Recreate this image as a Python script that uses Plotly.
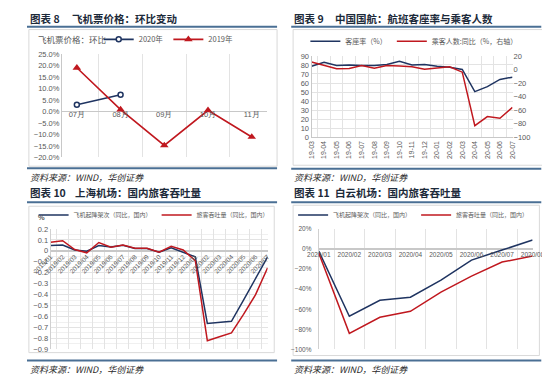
import plotly.graph_objects as go

W, H = 550, 375
def fx(p): return p / W
def fy(p): return 1 - p / H

# ---------------- data ----------------
# Panel 1: ticket price m/m
months1 = ["07月", "08月", "09月", "10月", "11月"]
price_2020 = [2.9, 7.3, None, None, None]
price_2019 = [19.0, 0.8, -14.8, 0.5, -11.1]

# Panel 2: Air China load factor and passengers yoy
months2 = ["19-03", "19-04", "19-05", "19-06", "19-07", "19-08", "19-09", "19-10", "19-11",
           "19-12", "20-01", "20-02", "20-03", "20-04", "20-05", "20-06", "20-07"]
load_factor = [78.5, 83.0, 79.5, 80.0, 79.5, 79.5, 80.5, 84.0, 80.0, 80.5, 78.5, 77.5, 75.0,
               50.5, 56.0, 64.0, 66.5]
pax_yoy = [11, 6, 1, 1.5, 6, 2, 6, 5, 4, 0.5, 2, 4, -4, -83, -69.5, -72, -56]

# Panel 3: Shanghai airport domestic (yoy)
months3 = ["2019/01", "2019/02", "2019/03", "2019/04", "2019/05", "2019/06", "2019/07",
           "2019/08", "2019/09", "2019/10", "2019/11", "2019/12", "2020/01", "2020/02",
           "2020/03", "2020/04", "2020/05", "2020/06", "2020/07"]
mov_sh = [0.048, 0.054, 0.008, -0.003, 0.048, 0.035, 0.051, 0.022, 0.022, -0.012, 0.027,
          -0.012, -0.055, -0.663, -0.653, -0.643, -0.45, -0.25, -0.055]
pax_sh = [0.078, 0.093, 0.012, -0.018, 0.076, 0.033, 0.053, 0.024, 0.024, -0.012, 0.042,
          0.008, -0.09, -0.82, -0.785, -0.75, -0.58, -0.40, -0.155]

# Panel 4: Baiyun airport domestic (yoy, %)
months4 = ["2020/01", "2020/02", "2020/03", "2020/04", "2020/05", "2020/06", "2020/07", "2020/08"]
mov_by = [-2, -67, -51, -48, -31, -11, -1, 9]
pax_by = [-4, -84, -68, -62, -43, -27, -13, -7]

NAVY = "#1f3461"
RED = "#c0181f"
GRID = "#e3e3e3"
TICK = "#595959"
RULE = "#4a6f94"
BOX = "#d9d9d9"
TXT = "#1c2a3a"
TFONT = "Liberation Sans, Arial, sans-serif"
CJK = "Noto Sans CJK SC"

fig = go.Figure()

# ---- panel 1
fig.add_trace(go.Scatter(x=months1, y=price_2020, name="2020年", mode="lines+markers",
                         line=dict(color=NAVY, width=1.6),
                         marker=dict(symbol="circle", size=5, color="white",
                                     line=dict(color=NAVY, width=1.5)),
                         xaxis="x", yaxis="y", legend="legend"))
fig.add_trace(go.Scatter(x=months1, y=price_2019, name="2019年", mode="lines+markers",
                         line=dict(color=RED, width=1.6),
                         marker=dict(symbol="triangle-up", size=7.5, color=RED),
                         xaxis="x", yaxis="y", legend="legend"))

# ---- panel 2
fig.add_trace(go.Scatter(x=months2, y=load_factor, name="客座率（%）", mode="lines",
                         line=dict(color=NAVY, width=1.5), xaxis="x2", yaxis="y2",
                         legend="legend2"))
fig.add_trace(go.Scatter(x=months2, y=pax_yoy, name="乘客人数:同比（%，右轴）", mode="lines",
                         line=dict(color=RED, width=1.5), xaxis="x2", yaxis="y3",
                         legend="legend2"))

# ---- panel 3
fig.add_trace(go.Scatter(x=months3, y=mov_sh, name="飞机起降架次（同比，国内）", mode="lines",
                         line=dict(color=NAVY, width=1.5), xaxis="x3", yaxis="y4",
                         legend="legend3"))
fig.add_trace(go.Scatter(x=months3, y=pax_sh, name="旅客吞吐量（同比，国内）", mode="lines",
                         line=dict(color=RED, width=1.5), xaxis="x3", yaxis="y4",
                         legend="legend3"))

# ---- panel 4
fig.add_trace(go.Scatter(x=months4, y=mov_by, name="飞机起降架次（同比，国内）", mode="lines",
                         line=dict(color=NAVY, width=1.5), xaxis="x4", yaxis="y5",
                         legend="legend4"))
fig.add_trace(go.Scatter(x=months4, y=pax_by, name="旅客吞吐量（同比，国内）", mode="lines",
                         line=dict(color=RED, width=1.5), xaxis="x4", yaxis="y5",
                         legend="legend4"))

tickf = dict(family=TFONT, size=7.5, color=TICK)

def cat_x(dom, pos=None, anchor=None, angle=0, size=7.5, grid=True, standoff=0):
    d = dict(type="category", domain=[fx(dom[0]), fx(dom[1])], tickson="boundaries",
             showgrid=grid, gridcolor=GRID, gridwidth=1, ticks="", showline=False,
             zeroline=False, tickangle=angle, tickfont=dict(family=TFONT, size=size, color=TICK),
             ticklabelstandoff=standoff, fixedrange=True)
    if pos is not None:
        d.update(anchor="free", position=fy(pos))
    else:
        d.update(anchor=anchor)
    return d

# panel 1 axes
fig.update_layout(
    xaxis=cat_x((37, 254), pos=102, standoff=-3),
    yaxis=dict(domain=[fy(149), fy(43)], range=[-20, 25], dtick=5, tickformat=".1f",
               ticksuffix="%", showgrid=False, zeroline=True, zerolinecolor="#c8c8c8",
               zerolinewidth=1, showline=True, linecolor="#c8c8c8", linewidth=1,
               tickfont=tickf, anchor="x"),
)
# panel 2 axes
fig.update_layout(
    xaxis2=dict(type="category", domain=[fx(301.5), fx(514.5)], anchor="y2", tickson="boundaries",
                showgrid=True, gridcolor=GRID, ticks="", tickangle=-90, showline=True,
                linecolor="#c8c8c8", tickfont=dict(family=TFONT, size=7, color=TICK)),
    yaxis2=dict(domain=[fy(128.3), fy(45)], range=[0, 90], dtick=10, showgrid=True,
                gridcolor=GRID, zeroline=False, showline=True, linecolor="#c8c8c8",
                tickfont=dict(family=TFONT, size=7.5, color=TICK), anchor="x2"),
    yaxis3=dict(overlaying="y2", side="right", anchor="x2", range=[-100, 20], dtick=20,
                showgrid=False, zeroline=False, showline=False,
                tickfont=dict(family=TFONT, size=7.5, color=TICK)),
)
# panel 3 axes
fig.update_layout(
    xaxis3=cat_x((25, 255), pos=244.7, angle=-45, size=6.5),
    yaxis4=dict(domain=[fy(345.7), fy(222.3)], range=[-0.9, 0.2], dtick=0.1, tickformat="~g",
                showgrid=True, gridcolor=GRID, zeroline=True, zerolinecolor="#c8c8c8",
                showline=True, linecolor="#d0d0d0",
                minor=dict(dtick=0.05, showgrid=True, gridcolor="#f0f0f0"),
                tickfont=dict(family=TFONT, size=7.5, color=TICK), anchor="x3"),
)
# panel 4 axes
fig.update_layout(
    xaxis4=cat_x((309.2, 535.8), pos=242.8, size=6.5, standoff=1),
    yaxis5=dict(domain=[fy(345.7), fy(222.3)], range=[-100, 20], dtick=20, ticksuffix="%",
                showgrid=False, zeroline=True, zerolinecolor="#c8c8c8", showline=True,
                linecolor="#d0d0d0", tickfont=dict(family=TFONT, size=6.5, color=TICK),
                ticklabelstandoff=5, anchor="x4"),
)

def leg(x, y, size):
    return dict(orientation="h", x=fx(x), y=fy(y), xanchor="left", yanchor="middle",
                font=dict(family=CJK, size=size, color=TICK), bgcolor="rgba(0,0,0,0)",
                itemwidth=30)

fig.update_layout(
    legend=leg(76, 28, 7.5),
    legend2=leg(295, 30, 7),
    legend3=leg(7, 208, 6),
    legend4=leg(282, 208, 6),
)

shapes = []
def rule(x0, x1, y, w=2):
    shapes.append(dict(type="line", xref="paper", yref="paper", x0=fx(x0), x1=fx(x1),
                       y0=fy(y), y1=fy(y), line=dict(color=RULE, width=w)))
def box(x0, y0, x1, y1):
    shapes.append(dict(type="rect", xref="paper", yref="paper", x0=fx(x0), x1=fx(x1),
                       y0=fy(y1), y1=fy(y0), line=dict(color=BOX, width=1), layer="below"))

rule(0, 265, 15); rule(280, 545, 15)
rule(0, 265, 160); rule(280, 545, 160.5)
rule(0, 265, 195); rule(280, 545, 195)
rule(0, 265, 357); rule(280, 545, 357)
box(2, 18, 265, 158); box(282, 18, 547, 157)
box(2, 199, 262, 349); box(282, 198, 543, 352)

ann = []
def text(x, y, s, size=10, bold=False, italic=False, color=TXT, family=CJK):
    ann.append(dict(x=fx(x), y=fy(y), xref="paper", yref="paper", xanchor="left",
                    yanchor="middle", showarrow=False, text=("<b>%s</b>" % s) if bold else s,
                    font=dict(family=family, size=size, color=color,
                              style="italic" if italic else "normal")))

text(1, 7, "图表 8", 10.5, bold=True); text(46, 7, "飞机票价格：环比变动", 10.5, bold=True)
text(281, 7, "图表 9", 10.5, bold=True); text(324, 7, "中国国航：航班客座率与乘客人数", 10.5, bold=True)
text(1, 185, "图表 10", 10.5, bold=True); text(49, 185, "上海机场：国内旅客吞吐量", 10.5, bold=True)
text(281, 185, "图表 11", 10.5, bold=True); text(324, 185, "白云机场：国内旅客吞吐量", 10.5, bold=True)
for (x, y) in [(1, 170), (281, 170), (1, 366), (281, 366)]:
    text(x, y, "资料来源：WIND，华创证券", 9, italic=True, color="#2a2a2a")
text(10, 211, "%", 7.5, bold=True, color=TICK, family=TFONT)
text(10, 28, "飞机票价格：环比", 8.5, color=TICK)

fig.update_layout(width=W, height=H, margin=dict(l=0, r=0, t=0, b=0), autosize=False,
                  paper_bgcolor="white", plot_bgcolor="rgba(0,0,0,0)",
                  shapes=shapes, annotations=ann, font=dict(family=TFONT))

fig.write_html("out.html")
